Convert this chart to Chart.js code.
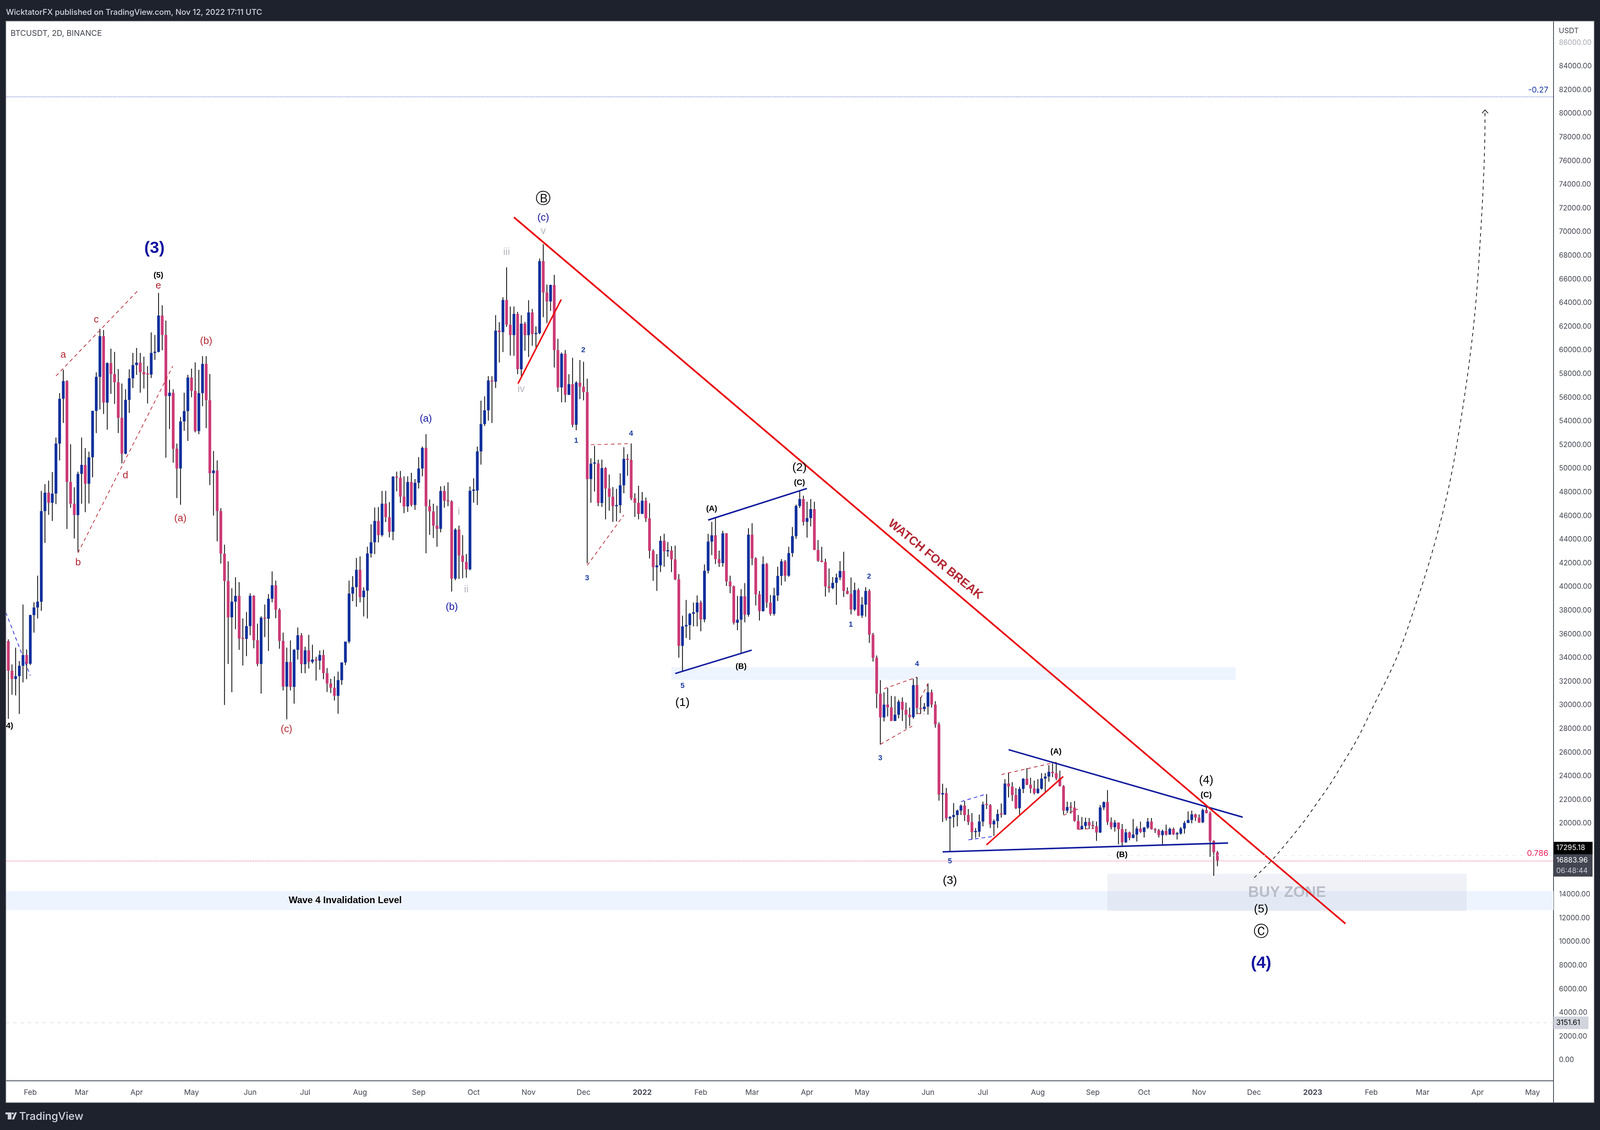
<!DOCTYPE html>
<html><head><meta charset="utf-8">
<style>html,body{margin:0;padding:0;background:#1e222d;overflow:hidden}canvas{display:block}</style>
<script src="https://cdn.jsdelivr.net/npm/chart.js@4/dist/chart.umd.js"></script>
</head><body><canvas id="c"></canvas>
<script>
const opens=[36609,35415,32913,32212,32459,33330,34240,33501,37613,38258,38750,
46406,47960,47107,47884,52110,55900,57397,48870,47031,46065,
49552,50310,48718,50954,54876,57755,61187,55578,58913,57986,
57292,54289,51257,55805,57629,58745,58955,58155,57966,57945,
59776,59860,62933,61292,56127,56412,51674,50006,53986,54858,
57692,56563,53171,56374,58849,55786,49608,49836,46406,42805,
40493,37424,38750,39243,35624,35600,36685,39243,35491,33483,
37386,37310,38996,40134,38068,35434,31568,33652,31549,34676,
35907,33463,34638,33652,33861,33766,34240,32705,31833,31473,
30791,32118,33614,35377,39432,39982,41441,39129,39679,42824,
43772,45572,44378,47031,45894,44662,49305,49230,47637,46798,
48860,46923,48797,50007,51744,46819,46376,45177,44903,48103,
47281,47218,40704,44840,42651,42112,41485,48123,48144,51450,
53765,54923,57449,57344,61659,61532,64248,62164,61280,63069,
58396,62248,61280,63196,61364,61448,67532,64880,64122,65511,
60017,56860,59701,56228,57133,53702,57259,56923,56460,49113,
50418,50439,47092,50039,48313,47618,46818,46903,48587,50818,
50734,47492,47113,46166,47281,45788,43050,41661,41815,43894,
43003,43071,42328,40641,35013,36662,36776,37723,37856,38671,
37249,41362,43825,44356,42347,42006,44526,40452,40035,36965,
37230,39201,37647,44412,42404,39371,37950,41930,38671,37723,
39277,40925,42157,40945,42858,44280,46838,47425,45493,45815,
46573,43124,42214,42100,40035,39902,40338,40793,41343,39656,
39410,38083,39732,37572,38500,39656,35961,34009,30977,28968,
30049,29821,28665,29196,30295,29612,29196,28987,31697,29764,
29669,29878,31091,30049,28380,22451,22569,20430,20548,20717,
21087,21508,20717,20127,19269,19303,20161,21610,21559,19925,
20211,20801,20750,23378,23125,22401,21290,22923,23782,23277,
22957,22569,22940,23799,23967,24371,24253,23832,23159,21088,
21391,21340,20211,19504,19791,20127,19824,19774,19235,21357,
21811,20127,19689,20077,19521,18410,19251,18781,19066,19572,
19285,19656,20161,19521,19420,19016,19370,19066,19538,19083,
19151,19572,20043,20296,20768,20498,20094,21138,20869,18528,17568];
const closes=[35415,32913,32212,32459,33330,34240,33501,37613,38258,38750,
46406,47960,47107,47884,52110,55900,57397,48870,47031,46065,
49552,50310,48718,50954,54876,57755,61187,55578,58913,57986,
57292,54289,51257,55805,57629,58745,58955,58155,57966,57945,
59776,59860,62933,61292,56127,56412,51674,50006,53986,54858,
57692,56563,53171,56374,58849,55786,49608,49836,46406,42805,
40493,37424,38750,39243,35624,35600,36685,39243,35491,33483,
37386,37310,38996,40134,38068,35434,31568,33652,31549,34676,
35907,33463,34638,33652,33861,33766,34240,32705,31833,31473,
30791,32118,33614,35377,39432,39982,41441,39129,39679,42824,
43772,45572,44378,47031,45894,44662,49305,49230,47637,46798,
48860,46923,48797,50007,51744,46819,46376,45177,44903,48103,
47281,47218,40704,44840,42651,42112,41485,48123,48144,51450,
53765,54923,57449,57344,61659,61532,64248,62164,61280,63069,
58396,62248,61280,63196,61364,61448,67532,64880,64122,65511,
60017,56860,59701,56228,57133,53702,57259,56923,56460,49113,
50418,50439,47092,50039,48313,47618,46818,46903,48587,50818,
50734,47492,47113,46166,47281,45788,43050,41661,41815,43894,
43003,43071,42328,40641,35013,36662,36776,37723,37856,38671,
37249,41362,43825,44356,42347,42006,44526,40452,40035,36965,
37230,39201,37647,44412,42404,39371,37950,41930,38671,37723,
39277,40925,42157,40945,42858,44280,46838,47425,45493,45815,
46573,43124,42214,42100,40035,39902,40338,40793,41343,39656,
39410,38083,39732,37572,38500,39656,35961,34009,30977,28968,
30049,29821,28665,29196,30295,29612,29196,28987,31697,29764,
29669,29878,31091,30049,28380,22451,22569,20430,20548,20717,
21087,21508,20717,20127,19269,19303,20161,21610,21559,19925,
20211,20801,20750,23378,23125,22401,21290,22923,23782,23277,
22957,22569,22940,23799,23967,24371,24253,23832,23159,21088,
21391,21340,20211,19504,19791,20127,19824,19774,19235,21357,
21811,20127,19689,20077,19521,18410,19251,18781,19066,19572,
19285,19656,20161,19521,19420,19016,19370,19066,19538,19083,
19151,19572,20043,20296,20768,20498,20094,21138,20869,18528,17568,16884];
const highs=[36900,35566,33444,34866,33728,38504,34714,37651,38693,40948,48111,
48680,48983,49703,52621,56374,58345,57460,52053,48415,49741,
52621,51731,51428,54896,58134,61818,61712,58976,60134,59860,
58408,57187,56703,58386,59776,60197,59776,59460,58660,61503,
61292,64850,63797,62512,57503,56703,52110,54365,56411,57923,
58450,58976,58345,59502,59502,57986,51484,50689,46652,43563,
42161,39887,40815,40399,37329,37878,39451,39300,36893,37518,
38504,39395,41308,40531,38200,36135,34866,35472,34751,36570,
36097,34941,35946,35112,34088,34619,34676,33141,32231,32440,
32838,33614,35377,40531,40910,42445,42578,39963,43393,45288,
46709,46747,48111,48111,47164,49362,49741,49800,49345,49345,
49640,49113,50965,51870,52902,47387,47029,46861,48502,48545,
48839,47324,44966,45177,44376,42772,48482,49176,51850,55743,
56102,57807,57807,62964,62375,64480,67006,63701,63701,63238,
62964,62396,64227,63490,62017,67763,68963,65553,65553,66374,
60964,59806,60017,57975,59365,57386,59175,59028,57596,50860,
51913,50755,50755,50124,49492,48439,48292,49597,51807,51218,
52123,47913,48545,48018,47555,47071,43177,42772,44299,44488,
43787,43446,43484,41077,37572,38898,37800,38671,39277,38841,
41892,44488,45493,45815,43067,44735,44545,40945,40111,39239,
39808,40319,44962,45379,42499,39656,42574,42025,39315,39921,
41703,42347,42271,43389,45057,46952,48183,47710,47198,47425,
47198,43957,43389,42385,41551,40831,41115,42177,42972,39959,
40793,40357,39884,39144,39978,39808,36112,34198,32114,31091,
31450,30787,30749,30465,30655,30219,29802,32228,32380,30693,
30181,31849,31318,30333,28547,23361,23007,20632,21727,21172,
21610,21896,21222,20885,19622,20750,21845,22485,21643,20346,
21189,21694,23748,24253,23495,22990,23108,23832,24674,23866,
23630,23748,24253,24253,24927,25095,25180,24472,23243,21845,
21811,21896,20717,20548,20498,20464,20211,20161,21559,21862,
22822,20515,20296,20093,19959,19538,19319,20380,19757,20161,
19706,20464,20464,19622,19538,19487,19908,19656,19656,19285,
19706,20211,21020,21087,20835,20768,21256,21441,21020,18578,17686];
const lows=[35000,28840,30886,30829,29256,31928,32193,33387,36135,37329,37973,
43715,46084,45572,46993,50689,53853,44890,46690,44094,42957,
47031,46311,47050,49267,53000,54990,54611,53285,56317,55464,
53000,50442,51200,54706,56808,57923,56412,56766,55502,57650,
59187,59818,60000,50916,53342,50499,47505,46937,53190,52337,
56032,53057,52906,55274,53417,48604,46027,43848,41972,30014,
33483,31095,36419,34676,33350,34145,35907,34808,33293,30980,
35756,34581,38693,37348,34770,31245,28801,31245,30127,33861,
32705,32705,33103,33520,32079,32990,32193,31113,31018,30393,
29275,31719,33387,35225,38788,38314,38693,37499,37329,42483,
42767,43753,44245,45477,44188,43942,48073,47100,46229,46335,
46798,46503,48313,49345,42840,44397,44124,43387,44608,46692,
46819,39604,40561,40671,40737,40770,41397,47113,46924,50334,
53597,54060,53850,56817,58964,59849,61975,59554,59533,57975,
57807,59954,59428,60375,60080,61343,62796,62290,63322,58543,
56481,55596,55596,56228,53491,53239,55870,55765,41991,47113,
48060,46818,46755,45703,46440,45492,45534,46229,47913,49386,
47323,45914,45703,46166,45492,42399,40506,39659,41248,41703,
42536,41248,40566,34009,32872,35676,35525,36662,36662,36245,
37003,41134,42688,41930,41683,41703,40073,39466,36814,36340,
34350,37003,37477,41835,38424,37155,37913,38235,37572,37572,
38803,40130,40452,40850,42536,44052,46667,45190,44166,45114,
43105,42120,42082,39182,39523,39808,38481,40566,39144,39372,
37666,37950,37534,37382,37477,35260,33687,29745,26675,28627,
29044,28665,28665,28893,28665,28002,28248,28855,29233,29271,
29461,29196,29802,28097,21929,20127,20245,17601,19656,19757,
20717,20211,19875,18646,18780,18864,19757,21222,19622,18948,
19622,20498,20717,22199,21896,21222,20717,22569,23243,22569,
22451,22518,22856,22653,23529,23916,23664,23125,20750,20885,
20835,20161,19487,19504,19538,19538,19538,18528,19201,21138,
19875,19504,19319,18225,18107,18359,18578,18746,18477,19201,
18814,19538,19487,19201,18814,18191,18982,19033,19033,18646,
19066,19150,20043,20010,20211,20043,20043,20852,17180,15580,16389];

const monthLabels=["Feb","Mar","Apr","May","Jun","Jul","Aug","Sep","Oct","Nov","Dec","2022","Feb","Mar","Apr","May","Jun","Jul","Aug","Sep","Oct","Nov","Dec","2023","Feb","Mar","Apr","May"];
const monthBars=[6,20,35,50,66,81,96,112,127,142,157,173,189,203,218,233,251,266,281,296,310,325,340,356,372,386,401,416];
const priceTicks=[0,2000,4000,6000,8000,10000,12000,14000,16000,18000,20000,22000,24000,26000,28000,30000,32000,34000,36000,38000,40000,42000,44000,46000,48000,50000,52000,54000,56000,58000,60000,62000,64000,66000,68000,70000,72000,74000,76000,78000,80000,82000,84000,86000];

const mainTrend=[[138,71238],[364.95,11531]];
const ivTrend=[[139.1,57178],[150.9,64290]];
const riseTrend=[[266.96,18191],[287.9,23967]];
const topChannel=[[191,45647],[217.95,48317]];
const bottomChannel=[[182,32673],[202.9,34653]];
const triangleTop=[[273,26238],[336.9,20531]];
const triangleBottom=[[255,17604],[332.9,18350]];
const redDashed=[
 [[13,57822],[35.4,65050]],[[19,42871],[44.9,58663]],
 [[159,52013],[170,52112]],[[158,41815],[168,46073]],
 [[239,31386],[248,32376]],[[238,26683],[246.7,28234]],
 [[248,29300],[250,29250]],[[249,30561],[251,31832]],
 [[271,24135],[286,25182]],[[288,20693],[291.9,21221]],[[292,19505],[296.3,19571]]];
const blueDashed=[[[-0.7,37855],[6,32500]],[[260,21848],[266.9,22485]],[[262,18614],[269,18918]]];
const projection=[[340.03,15413],[344.67,16832],[349.13,18449],[353.39,20076],[357.1,21696],[360.61,23244],[364.1,25017],[368.09,27096],[372.88,30112],[379.03,34106],[384.61,38977],[388.8,43135],[392.97,48185],[395.79,52871],[398.57,58597],[400.52,63993],[401.91,70231],[402.62,74422],[402.98,77888],[403.03,80310]];
const arrowHead=[[402.24,80033],[403.03,80310],[403.87,80033]];

const xMin=-0.672,xMax=421.73,yMin=-1749,yMax=87822;
const fibUpper=81419,fibLower=16832,prevClose=17295.18,lastClose=16883.96,lowLine=3151.61;

// zones: bar from, bar to, price top, price bottom
const zones=[[xMin,xMax,14290,12673,'#eef4fd'],[181,335,33218,32145,'#eef4fd'],[300,398,15749,12584,'rgba(191,200,224,.25)']];

// The chart keeps the reference's proportions in whatever window it is given.
const W=window.innerWidth||5588,H=window.innerHeight||2894;
const sx=W/5588,sy=H/2894,k=Math.sqrt(sx*sy);
const cv=document.getElementById('c');cv.width=W;cv.height=H;

const F='"Liberation Sans"',UI='Inter';
const fnt=(size,fam,w)=>(w?w+' ':'')+(size*k).toFixed(2)+'px '+fam;
const styles={
 big:[fnt(50,F,'bold'),'#1414a0'],red:[fnt(30,F),'#b22833'],blue:[fnt(30,F),'#1414a0'],gray:[fnt(30,F),'#b2b5be'],
 num:[fnt(22,F,'bold'),'#1a3a9e'],bb:[fnt(24,F,'bold'),'#000'],blk:[fnt(35,F),'#000'],circ:[fnt(46,'"DejaVu Sans"'),'#000'],
 wave:[fnt(28,F,'bold'),'#000'],buy:[fnt(45,F,'bold'),'#b9bdc8']};
const notes=[
["(3)",39.89,68614,'big'],["(5)",40.96,66337,'bb'],["e",40.96,65462,'red'],["c",24,62574,'red'],["a",15,59604,'red'],
["(b)",54,60759,'red'],["b",19.05,42046,'red'],["d",31.96,49406,'red'],["(a)",46.96,45776,'red'],["(c)",75.92,27954,'red'],
["(4)",0,28251,'bb'],["Ⓑ",146,72752,'circ'],["(c)",146,71188,'blue'],["v",146,70079,'gray'],["iii",135.99,68271,'gray'],
["iv",139.97,56700,'gray'],["i",122.95,46337,'gray'],["ii",125,39769,'gray'],["(a)",113.95,54191,'blue'],["(b)",121.04,38284,'blue'],
["2",156.93,60000,'num'],["1",154.97,52343,'num'],["4",169.97,52937,'num'],["3",157.97,40726,'num'],
["(A)",191.97,46601,'bb'],["(C)",215.93,48792,'bb'],["(2)",215.93,50079,'blk'],["(B)",199.99,33267,'bb'],["5",184,31617,'num'],["(1)",184,30198,'blk'],
["2",234.92,40871,'num'],["1",229.93,36818,'num'],["3",237.98,25518,'num'],["4",248,33482,'num'],
["(A)",285.94,26073,'bb'],["(B)",303.95,17360,'bb'],["5",256.99,16812,'num'],["(3)",256.99,15162,'blk'],
["(4)",326.93,23640,'blk'],["(C)",326.93,22390,'bb'],["(5)",341.92,12739,'blk'],["Ⓒ",341.92,10792,'circ'],["(4)",341.92,8172,'big'],
["Wave 4 Invalidation Level",91.94,13498,'wave']];

const pts=a=>a.map(p=>({x:p[0],y:p[1]}));
const line=(a,color,width,dash,extra)=>Object.assign({type:'line',data:pts(a),borderColor:color,borderWidth:width*k,borderDash:(dash||[]).map(d=>d*k),pointRadius:0,tension:0,order:1,borderCapStyle:'butt'},extra||{});
const BLUE='#0f2f9b',PINK='#cb3a75';
const xs=opens.map((_,i)=>i-1);

const datasets=[
 {type:'bar',data:xs.map((x,i)=>({x,y:[lows[i],highs[i]]})),backgroundColor:'#000',barThickness:2,grouped:false,order:10,borderWidth:0,inflateAmount:0},
 {type:'bar',data:xs.map((x,i)=>({x,y:[opens[i],closes[i]]})),backgroundColor:xs.map((x,i)=>closes[i]>=opens[i]?BLUE:PINK),barThickness:Math.round(10*sx),grouped:false,order:9,borderWidth:0,minBarLength:3,inflateAmount:0},
 line([[xMin,fibUpper],[xMax,fibUpper]],'#2a3ea8',2,[2,3]),
 line([[xMin,fibLower],[xMax,fibLower]],'#e91e63',2,[2,3]),
 line([[xMin,lowLine],[xMax,lowLine]],'#d8dae2',2,[10,12]),
 line([[300,prevClose],[xMax,prevClose]],'#e9eaef',2,[10,12]),
 line(mainTrend,'#ea0a10',5),line(ivTrend,'#ea0a10',4.5),line(riseTrend,'#ea0a10',4.5),
 line(topChannel,'#111c9e',4.5),line(bottomChannel,'#111c9e',4.5),line(triangleTop,'#111c9e',4.5),line(triangleBottom,'#111c9e',4.5),
 ...redDashed.map(a=>line(a,'#b71c2e',2,[11,9])),
 ...blueDashed.map(a=>line(a,'#1a1ae0',2,[11,9])),
 line(projection,'#000',2,[10,10],{tension:.35}),
 line(arrowHead,'#000',2),
];

const fL=Math.round(20*sx),fT=Math.round(54*sy),fR=Math.round(5568*sx),fB=Math.round(2824*sy),axX=Math.round(5425*sx),fXb=Math.round(2768*sy);
const draw={id:'draw',
 beforeDraw(ch){const c=ch.ctx;c.save();c.fillStyle='#1e222d';c.fillRect(0,0,W,H);c.fillStyle='#fff';c.fillRect(fL,fT,fR-fL,fB-fT);
  c.textBaseline='middle';c.textAlign='left';c.fillStyle='#d1d4dc';c.font=fnt(23.6,UI,'500');c.fillText('WicktatorFX published on TradingView.com, Nov 12, 2022 17:11 UTC',21*sx,32*sy);
  c.font=fnt(32,UI,'500');c.fillText('TradingView',67*sx,2860*sy);
  const X=v=>v*sx,Y=v=>v*sy;
  c.fillRect(X(19),Y(2849),X(21),Y(5));c.fillRect(X(27),Y(2854),X(13),Y(13));c.beginPath();c.arc(X(44.5),Y(2851.5),3*k,0,6.2832);c.fill();
  c.beginPath();c.moveTo(X(52),Y(2849));c.lineTo(X(59),Y(2849));c.lineTo(X(49),Y(2867));c.lineTo(X(41.5),Y(2867));c.closePath();c.fill();c.restore();},
 beforeDatasetsDraw(ch){const c=ch.ctx,X=ch.scales.x,Y=ch.scales.y,A=ch.chartArea;c.save();c.beginPath();c.rect(A.left,A.top,A.right-A.left,A.bottom-A.top);c.clip();
  zones.forEach(z=>{const x0=X.getPixelForValue(z[0]),x1=X.getPixelForValue(z[1]),y0=Y.getPixelForValue(z[2]),y1=Y.getPixelForValue(z[3]);c.fillStyle=z[4];c.fillRect(x0,y0,x1-x0,y1-y0);});
  c.font=styles.buy[0];c.fillStyle=styles.buy[1];c.textAlign='center';c.textBaseline='middle';c.fillText('BUY ZONE',X.getPixelForValue(349),Y.getPixelForValue(14139));
  c.restore();},
 afterDatasetsDraw(ch){const c=ch.ctx,X=ch.scales.x,Y=ch.scales.y,A=ch.chartArea;c.save();c.beginPath();c.rect(A.left,A.top,A.right-A.left,A.bottom-A.top);c.clip();
  c.textAlign='center';c.textBaseline='middle';
  notes.forEach(n=>{const s=styles[n[3]];c.font=s[0];c.fillStyle=s[1];c.fillText(n[0],X.getPixelForValue(n[1]),Y.getPixelForValue(n[2]));});
  const ang=Math.atan2(Y.getPixelForValue(mainTrend[1][1])-Y.getPixelForValue(mainTrend[0][1]),X.getPixelForValue(mainTrend[1][0])-X.getPixelForValue(mainTrend[0][0]));
  c.save();c.translate(X.getPixelForValue(252.99),Y.getPixelForValue(42310));c.rotate(ang-Math.PI/180);c.font=fnt(36,F,'bold');c.fillStyle='#b22833';c.fillText('WATCH FOR BREAK',0,0);c.restore();
  c.textAlign='right';c.font=fnt(24,UI);c.fillStyle='#1a3a9e';c.fillText('-0.27',X.getPixelForValue(420.33),Y.getPixelForValue(81990));
  c.fillStyle='#f2245f';c.fillText('0.786',X.getPixelForValue(420.33),Y.getPixelForValue(17459));
  c.textAlign='left';c.font=fnt(23.7,UI);c.fillStyle='#434651';c.fillText('BTCUSDT, 2D, BINANCE',37*sx,86*sy);
  c.restore();},
 afterDraw(ch){const c=ch.ctx,Y=ch.scales.y;c.save();c.textBaseline='middle';c.textAlign='left';
  c.fillStyle='#434651';c.font=fnt(22,UI);c.fillText('USDT',5444*sx,79*sy);
  const yp=Y.getPixelForValue(prevClose),ym=Y.getPixelForValue(lowLine);
  const tw=135*sx,tx=axX+1,pad=7*k;
  c.fillStyle='#000';c.fillRect(tx,yp-35*sy,tw,32*sy);
  c.fillStyle='#434651';c.fillRect(tx,yp-3*sy,tw,57*sy);
  c.font=fnt(21.5,UI);c.fillStyle='#fff';c.fillText(prevClose.toFixed(2),tx+pad,yp-19*sy);
  c.fillText(lastClose.toFixed(2),tx+pad,yp+13*sy);
  c.fillStyle='#c8cad2';c.fillText('06:48:44',tx+pad,yp+39.5*sy);
  c.fillStyle='#d1d4dc';c.fillRect(axX,ym-16*sy,122*sx,32*sy);
  c.fillStyle='#000';c.fillText(lowLine.toFixed(2),tx+pad,ym);
  c.strokeStyle='#787b86';c.lineWidth=1.5;c.strokeRect(fL,fT,fR-fL,fB-fT);
  c.strokeStyle='#434651';c.lineWidth=2;c.beginPath();c.moveTo(axX,fXb);c.lineTo(axX,fB);c.stroke();
  c.restore();}
};

new Chart(cv,{
 data:{datasets},plugins:[draw],
 options:{responsive:false,animation:false,devicePixelRatio:1,maintainAspectRatio:false,
  layout:{padding:{left:fL,top:fT,right:W-fR,bottom:H-fB}},
  plugins:{legend:{display:false},tooltip:{enabled:false}},
  scales:{
   x:{type:'linear',min:xMin,max:xMax,offset:false,
    grid:{display:false,drawTicks:false},border:{display:true,color:'#434651',width:2},
    afterFit(s){s.height=fB-fXb},
    afterBuildTicks(s){s.ticks=monthBars.map(v=>({value:v}))},
    ticks:{autoSkip:false,maxRotation:0,minRotation:0,padding:Math.round(19*sy),color:'#434651',
     font(ctx){const v=ctx.tick&&ctx.tick.value;const i=monthBars.indexOf(v);return {family:UI,size:Math.round(22*k),weight:(i>=0&&/^\d/.test(monthLabels[i]))?'bold':'normal'}},
     callback(v){const i=monthBars.indexOf(v);return i>=0?monthLabels[i]:''}}},
   y:{type:'linear',position:'right',min:yMin,max:yMax,
    grid:{display:false,drawTicks:false},border:{display:true,color:'#434651',width:2},
    afterFit(s){s.width=fR-axX},
    afterBuildTicks(s){s.ticks=priceTicks.map(v=>({value:v}))},
    ticks:{padding:Math.round(19*sx),crossAlign:'near',autoSkip:false,font:{family:UI,size:Math.round(21.5*k)},
     color(ctx){return ctx.tick&&ctx.tick.value===86000?'#a9abb3':'#434651'},
     callback(v){return v.toFixed(2)}}}
  }}});
</script></body></html>
